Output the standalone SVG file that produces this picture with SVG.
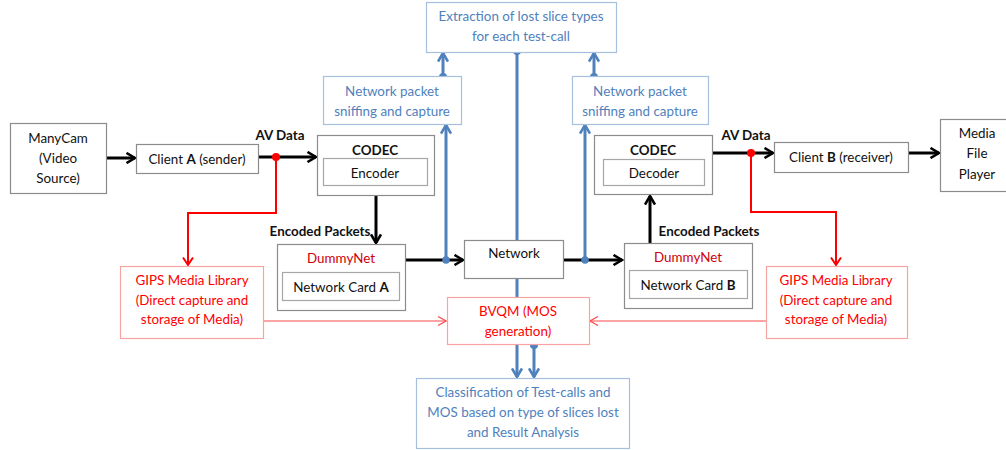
<svg xmlns="http://www.w3.org/2000/svg" width="1006" height="450" viewBox="0 0 1006 450">
  <style>
    text { font-family: Lato, "Liberation Sans", sans-serif; font-size: 13.4px; text-anchor: middle; dominant-baseline: central; }
    .box { fill: #fff; stroke: #8c8c8c; stroke-width: 1.2; }
    .ibox { fill: #fff; stroke: #a6a6a6; stroke-width: 1.2; }
    .bbox { fill: #fff; stroke: #a7c0e0; stroke-width: 1.2; }
    .rbox { fill: #fff; stroke: #f7a3a3; stroke-width: 1.2; }
    .blk { fill: #111; }
    .blu { fill: #4f81bd; }
    .red { fill: #ff0000; }
    .dred { fill: #d0000a; }
    .b { font-weight: bold; }
    .ln-k { stroke: #000; stroke-width: 3; fill: none; }
    .ln-b { stroke: #4f81bd; stroke-width: 3; fill: none; }
    .ln-r { stroke: #ff0000; stroke-width: 2; fill: none; }
    .ln-rt { stroke: #ff4a4a; stroke-width: 1.2; fill: none; }
  </style>
  <defs>
    <marker id="ak" viewBox="0 0 12 12" refX="10.5" refY="6" markerWidth="12" markerHeight="12" markerUnits="userSpaceOnUse" orient="auto">
      <path d="M2,1 L10.5,6 L2,11" fill="none" stroke="#000" stroke-width="2.6"/>
    </marker>
    <marker id="ab" viewBox="0 0 12 12" refX="10.5" refY="6" markerWidth="12" markerHeight="12" markerUnits="userSpaceOnUse" orient="auto">
      <path d="M2,1 L10.5,6 L2,11" fill="none" stroke="#4f81bd" stroke-width="2.6"/>
    </marker>
    <marker id="ar" viewBox="0 0 12 12" refX="10.5" refY="6" markerWidth="12" markerHeight="12" markerUnits="userSpaceOnUse" orient="auto">
      <path d="M3,1 L10.5,6 L3,11" fill="none" stroke="#ff0000" stroke-width="2"/>
    </marker>
    <marker id="art" viewBox="0 0 12 12" refX="11" refY="6" markerWidth="12" markerHeight="12" markerUnits="userSpaceOnUse" orient="auto">
      <path d="M3,1.5 L11,6 L3,10.5" fill="none" stroke="#ff4a4a" stroke-width="1.2"/>
    </marker>
  </defs>

  <!-- connectors -->
  <g id="connectors">
    <!-- black data path -->
    <line class="ln-k" x1="106" y1="158" x2="135" y2="158" marker-end="url(#ak)"/>
    <line class="ln-k" x1="258" y1="157" x2="316" y2="157" marker-end="url(#ak)"/>
    <line class="ln-k" x1="376" y1="195" x2="376" y2="243" marker-end="url(#ak)"/>
    <line class="ln-k" x1="405" y1="260" x2="463" y2="260" marker-end="url(#ak)"/>
    <line class="ln-k" x1="563" y1="260" x2="622" y2="260" marker-end="url(#ak)"/>
    <line class="ln-k" x1="650" y1="243" x2="650" y2="196" marker-end="url(#ak)"/>
    <line class="ln-k" x1="712" y1="153" x2="773" y2="153" marker-end="url(#ak)"/>
    <line class="ln-k" x1="908" y1="153" x2="939" y2="153" marker-end="url(#ak)"/>

    <!-- blue capture / analysis path -->
    <line class="ln-b" x1="446" y1="260" x2="446" y2="125" stroke-width="2" marker-end="url(#ab)"/>
    <circle cx="446" cy="260" r="3.8" fill="#4f81bd"/>
    <line class="ln-b" x1="443" y1="77" x2="443" y2="53" marker-end="url(#ab)"/>
    <circle cx="443" cy="77" r="4" fill="#4f81bd"/>
    <line class="ln-b" x1="585" y1="260" x2="585" y2="125" stroke-width="2" marker-end="url(#ab)"/>
    <circle cx="585" cy="260" r="3.8" fill="#4f81bd"/>
    <line class="ln-b" x1="594" y1="77" x2="594" y2="53" marker-end="url(#ab)"/>
    <circle cx="594" cy="77" r="4" fill="#4f81bd"/>
    <line class="ln-b" x1="517" y1="51" x2="517" y2="240"/>
    <circle cx="517" cy="51" r="4" fill="#4f81bd"/>
    <line class="ln-b" x1="517" y1="278" x2="517" y2="297"/>
    <line class="ln-b" x1="517" y1="344" x2="517" y2="377" marker-end="url(#ab)"/>
    <line class="ln-b" x1="534" y1="345" x2="534" y2="377" marker-end="url(#ab)"/>
    <circle cx="534" cy="345" r="4" fill="#4f81bd"/>

    <!-- red media capture path -->
    <polyline class="ln-r" points="276,157 276,213 188,213 188,265" marker-end="url(#ar)"/>
    <circle cx="276" cy="157" r="4" fill="#ff0000"/>
    <polyline class="ln-r" points="751,153 751,212 836,212 836,265" marker-end="url(#ar)"/>
    <circle cx="751" cy="153" r="4" fill="#ff0000"/>
    <line class="ln-rt" x1="263" y1="321" x2="446" y2="321" marker-end="url(#art)"/>
    <line class="ln-rt" x1="766" y1="321" x2="590" y2="321" marker-end="url(#art)"/>
  </g>

  <!-- edge labels -->
  <g id="labels">
    <text class="blk b" x="280" y="135">AV Data</text>
    <text class="blk b" x="746" y="135">AV Data</text>
    <text class="blk b" x="320" y="231">Encoded Packets</text>
    <text class="blk b" x="709" y="231">Encoded Packets</text>
  </g>

  <g id="manycam">
    <rect class="box" x="10.5" y="123.5" width="96" height="70"/>
    <text class="blk" x="58" y="138">ManyCam</text>
    <text class="blk" x="58" y="158">(Video</text>
    <text class="blk" x="58" y="178">Source)</text>
  </g>

  <g id="client-a">
    <rect class="box" x="136.5" y="144.5" width="122" height="29"/>
    <text class="blk" x="197" y="159">Client <tspan class="b">A</tspan> (sender)</text>
  </g>

  <g id="codec-a">
    <rect class="box" x="317.5" y="135.5" width="117" height="60"/>
    <text class="blk b" x="375" y="150">CODEC</text>
    <rect class="ibox" x="323.5" y="158.5" width="104" height="27"/>
    <text class="blk" x="375" y="173">Encoder</text>
  </g>

  <g id="sniff-a">
    <rect class="bbox" x="323.5" y="76.5" width="138" height="48"/>
    <text class="blu" x="392" y="91">Network packet</text>
    <text class="blu" x="392" y="111">sniffing and capture</text>
  </g>

  <g id="extraction">
    <rect class="bbox" x="426.5" y="2.5" width="190" height="50"/>
    <text class="blu" x="521" y="16">Extraction of lost slice types</text>
    <text class="blu" x="521" y="36">for each test-call</text>
  </g>

  <g id="sniff-b">
    <rect class="bbox" x="572.5" y="76.5" width="136" height="48"/>
    <text class="blu" x="640" y="91">Network packet</text>
    <text class="blu" x="640" y="111">sniffing and capture</text>
  </g>

  <g id="codec-b">
    <rect class="box" x="594.5" y="135.5" width="118" height="59"/>
    <text class="blk b" x="653" y="150">CODEC</text>
    <rect class="ibox" x="603.5" y="159.5" width="101" height="26"/>
    <text class="blk" x="654" y="173">Decoder</text>
  </g>

  <g id="client-b">
    <rect class="box" x="774.5" y="142.5" width="134" height="30"/>
    <text class="blk" x="841" y="157">Client <tspan class="b">B</tspan> (receiver)</text>
  </g>

  <g id="media-player">
    <rect class="box" x="940.5" y="119.5" width="70" height="72"/>
    <text class="blk" x="977" y="133">Media</text>
    <text class="blk" x="977" y="153">File</text>
    <text class="blk" x="977" y="174">Player</text>
  </g>

  <g id="dummynet-a">
    <rect class="box" x="277.5" y="244.5" width="128" height="66"/>
    <text class="dred" x="341" y="258">DummyNet</text>
    <rect class="ibox" x="282.5" y="272.5" width="117" height="28"/>
    <text class="blk" x="341" y="287">Network Card <tspan class="b">A</tspan></text>
  </g>

  <g id="network">
    <rect class="box" x="464.5" y="240.5" width="99" height="38"/>
    <text class="blk" x="514" y="253">Network</text>
  </g>

  <g id="dummynet-b">
    <rect class="box" x="624.5" y="243.5" width="128" height="65"/>
    <text class="dred" x="688" y="257">DummyNet</text>
    <rect class="ibox" x="629.5" y="270.5" width="118" height="28"/>
    <text class="blk" x="688" y="285">Network Card <tspan class="b">B</tspan></text>
  </g>

  <g id="gips-a">
    <rect class="rbox" x="120.5" y="266.5" width="143" height="72"/>
    <text class="red" x="192" y="280">GIPS Media Library</text>
    <text class="red" x="192" y="300">(Direct capture and</text>
    <text class="red" x="192" y="319">storage of Media)</text>
  </g>

  <g id="gips-b">
    <rect class="rbox" x="766.5" y="266.5" width="141" height="72"/>
    <text class="red" x="836" y="280">GIPS Media Library</text>
    <text class="red" x="836" y="300">(Direct capture and</text>
    <text class="red" x="836" y="319">storage of Media)</text>
  </g>

  <g id="bvqm">
    <rect class="rbox" x="447.5" y="297.5" width="142" height="47"/>
    <text class="red" x="518" y="311">BVQM (MOS</text>
    <text class="red" x="518" y="331">generation)</text>
  </g>

  <g id="classification">
    <rect class="bbox" x="416.5" y="378.5" width="213" height="70"/>
    <text class="blu" x="523" y="392">Classification of Test-calls and</text>
    <text class="blu" x="523" y="412">MOS based on type of slices lost</text>
    <text class="blu" x="523" y="432">and Result Analysis</text>
  </g>
</svg>
